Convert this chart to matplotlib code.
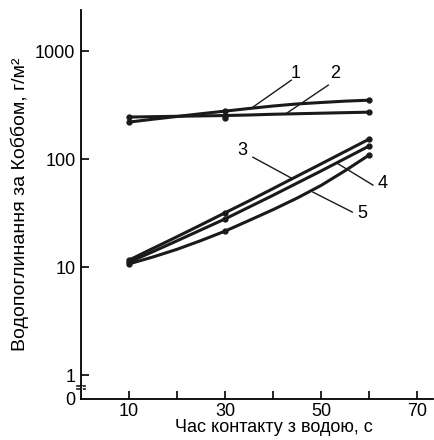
import numpy as np
import matplotlib
matplotlib.use("Agg")
import matplotlib.pyplot as plt

plt.rcParams['font.family'] = ['Liberation Sans', 'DejaVu Sans']

x = [10, 15, 20, 25, 30, 35, 40, 45, 50, 55, 60]
curve1 = [220, 234, 248, 263, 278, 294, 310, 324, 334, 344, 351]
curve2 = [245, 247, 249, 251, 253, 256, 260, 263, 266, 269, 272]
curve3 = [11.6, 14.9, 19.1, 24.6, 31.8, 41.0, 53.3, 69.4, 90.2, 117.5, 153]
curve4 = [11.1, 13.9, 17.5, 22.1, 27.9, 35.9, 46.2, 59.9, 77.6, 101.2, 132]
curve5 = [10.7, 12.4, 14.6, 17.6, 21.5, 27.0, 34.0, 43.5, 57.0, 78.0, 109]
extra_x = [30]
extra_y = [240]

labels = ['1', '2', '3', '4', '5']
label_pos = [(44.6, 625), (52.9, 625), (33.7, 121), (62.9, 58.8), (58.5, 31.6)]
leaders = [((43.8, 538), (35.2, 290)),
           ((51.5, 484), (42.9, 267)),
           ((35.8, 104), (43.8, 66.7)),
           ((60.8, 57.4), (53.3, 91.8)),
           ((56.5, 32.3), (48.3, 49.4))]

yticks = [0.6, 1, 10, 100, 1000]
ytick_labels = ['0', '1', '10', '100', '1000']

fig = plt.figure(figsize=(4.34, 4.40), dpi=100)
ax = fig.add_axes([0.1866, 0.0932, 0.811, 0.884])

for c in [curve1, curve2, curve3, curve4, curve5]:
    ax.plot(x, c, color='#1a1a1a', lw=2.2, solid_capstyle='round',
            marker='o', ms=3.5, markevery=[0, 4, 10])
ax.plot(extra_x, extra_y, 'o', color='#1a1a1a', ms=3.5)

for lab, (tx, ty) in zip(labels, label_pos):
    ax.text(tx, ty, lab, fontsize=13, ha='center', va='center')
for (p, q) in leaders:
    ax.plot([p[0], q[0]], [p[1], q[1]], color='#1a1a1a', lw=1.0)

ax.set_yscale('log')
ax.set_xlim(0, 73.3)
ax.set_ylim(0.6, 2400)
ax.set_yticks(yticks)
ax.set_yticklabels(ytick_labels)
ax.yaxis.set_minor_locator(matplotlib.ticker.NullLocator())
ax.get_yticklines()[0].set_visible(False)
ax.set_xticks([10, 20, 30, 40, 50, 60, 70])
ax.set_xticklabels(['10', '', '30', '', '50', '', '70'])

ax.tick_params(direction='in', length=6, width=1.2, labelsize=13, pad=4)
ax.tick_params(axis='x', pad=3)
for s in ['top', 'right']:
    ax.spines[s].set_visible(False)
for s in ['left', 'bottom']:
    ax.spines[s].set_linewidth(1.3)

ax.set_xlabel('Час контакту з водою, с', fontsize=13, va='top')
ax.set_ylabel('Водопоглинання за Коббом, г/м²', fontsize=14)
ax.xaxis.set_label_coords(0.548, -0.052)
ax.yaxis.set_label_coords(-0.148, 0.5)

# axis break marks
ax.plot([-0.012, 0.012], [0.033, 0.033], transform=ax.transAxes, color='#1a1a1a', lw=1.2, clip_on=False)
ax.plot([-0.012, 0.012], [0.025, 0.025], transform=ax.transAxes, color='#1a1a1a', lw=1.2, clip_on=False)
ax.plot([0, 0], [0.0268, 0.0312], transform=ax.transAxes, color='white', lw=2, clip_on=False)

fig.savefig('out.png', dpi=100)
